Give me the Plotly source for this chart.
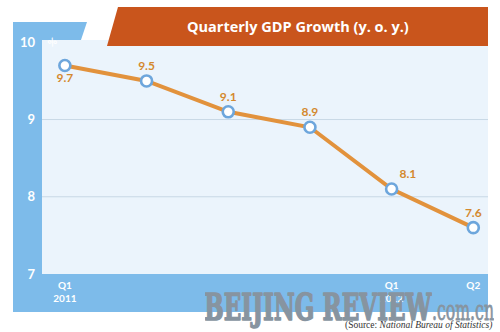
import plotly.graph_objects as go

# Quarterly GDP growth, year on year (%)
QUARTERS = ["Q1 2011", "Q2 2011", "Q3 2011", "Q4 2011", "Q1 2012", "Q2 2012"]
GROWTH = [9.7, 9.5, 9.1, 8.9, 8.1, 7.6]
TICK_LABELS = ["Q1<br>2011", "", "", "", "Q1<br>2012", "Q2"]
LABEL_POS = ["bottom center", "top center", "top center", "top center", "top right", "top center"]
Y_TICKS = [7, 8, 9, 10]
GRID_LEVELS = [8, 9]

TITLE = "Quarterly GDP Growth (y. o. y.)"
SOURCE = "(Source: <i>National Bureau of Statistics)</i>"

# Canvas and plot-area geometry (pixels)
W, H = 500, 332
ML, MR, MT, MB = 42, 12, 40, 58
PW, PH = W - ML - MR, H - MT - MB

BLUE = "#7DBBEA"
PANEL = "#EBF4FC"
BANNER = "#C9551C"
LINE = "#E2923C"
LABEL = "#D4892E"
RING = "#6DA6DC"
MARK = "#8794A0"


def px(x):
    return (x - ML) / PW


def py(y):
    return (H - MB - y) / PH


def poly(points):
    d = "M " + " L ".join(f"{px(x):.4f},{py(y):.4f}" for x, y in points) + " Z"
    return d


fig = go.Figure()

fig.add_trace(go.Scatter(
    x=QUARTERS, y=GROWTH,
    mode="lines+markers+text",
    line=dict(color=LINE, width=4),
    marker=dict(size=11, color="white", line=dict(color=RING, width=2.6)),
    text=[f"{v:.1f}" for v in GROWTH],
    textposition=LABEL_POS,
    textfont=dict(family="Lato", size=12, color=LABEL, weight="bold"),
    cliponaxis=False,
    hoverinfo="skip",
))

shapes = [
    # blue frame around the panel (left strip, top tab and bottom strip)
    dict(type="path", xref="paper", yref="paper", layer="below",
         path=poly([(13, 22), (87, 22), (81, 40), (ML, 40), (ML, H - MB),
                    (W - MR, H - MB), (W - MR, 312), (13, 312)]),
         fillcolor=BLUE, line=dict(width=0)),
    # title banner
    dict(type="path", xref="paper", yref="paper", layer="above",
         path=poly([(118, 7), (W - MR, 7), (W - MR, 46), (107, 46)]),
         fillcolor=BANNER, line=dict(width=0)),
]
for g in GRID_LEVELS:
    shapes.append(dict(type="line", xref="paper", yref="y", layer="below",
                       x0=0, x1=1, y0=g, y1=g,
                       line=dict(color="#C8D8E6", width=1)))

annotations = [
    dict(text=TITLE, x=px(298), y=py(26), xref="paper", yref="paper",
         showarrow=False, xanchor="center", yanchor="middle",
         font=dict(family="Open Sans", size=14.5, color="white", weight="bold")),
    dict(text="%", x=px(42), y=py(32), xref="paper", yref="paper",
         showarrow=False, textangle=-40,
         font=dict(family="Lato", size=10, color="white", weight="bold")),
    dict(text="BEIJING REVIEW", x=px(318.5), y=py(306.8), xref="paper", yref="paper",
         showarrow=False, xanchor="center", yanchor="middle", width=227,
         font=dict(family="DejaVu Serif", size=38, color=MARK, weight="bold")),
    dict(text=".com.cn", x=px(463), y=py(310.6), xref="paper", yref="paper",
         showarrow=False, xanchor="center", yanchor="middle", width=62,
         font=dict(family="DejaVu Serif", size=27, color=MARK)),
    dict(text=SOURCE, x=px(418), y=py(325), xref="paper", yref="paper",
         showarrow=False, xanchor="center", yanchor="middle",
         font=dict(family="Liberation Serif", size=9.5, color="#333333")),
]

fig.update_layout(
    width=W, height=H,
    margin=dict(l=ML, r=MR, t=MT, b=MB, pad=0),
    paper_bgcolor="white",
    plot_bgcolor=PANEL,
    showlegend=False,
    shapes=shapes,
    annotations=annotations,
    xaxis=dict(
        type="category", categoryarray=QUARTERS,
        range=[-0.28, 5.18],
        tickvals=QUARTERS, ticktext=TICK_LABELS,
        showgrid=False, zeroline=False, showline=False, ticks="",
        ticklabelstandoff=4,
        tickfont=dict(family="Lato", size=10, color="white", weight="bold"),
    ),
    yaxis=dict(
        range=[7, 10.03],
        tickvals=Y_TICKS,
        showgrid=False, zeroline=False, showline=False, ticks="",
        ticklabelstandoff=6,
        tickfont=dict(family="Lato", size=13, color="white", weight="bold"),
    ),
)

# Squeeze the masthead lettering into its condensed widths and thicken the strokes
post_js = """
var gd = document.getElementById('{plot_id}');
function squeeze(txt, w, stroke) {
  gd.querySelectorAll('text.annotation-text').forEach(function (t) {
    if (t.textContent === txt) {
      t.setAttribute('textLength', w);
      t.setAttribute('lengthAdjust', 'spacingAndGlyphs');
      t.style.stroke = '#8794A0';
      t.style.strokeWidth = stroke + 'px';
      t.style.strokeLinejoin = 'round';
    }
  });
}
squeeze('BEIJING REVIEW', 227, 1.6);
squeeze('.com.cn', 62, 0.8);
"""

fig.write_html("out.html", post_script=post_js)
